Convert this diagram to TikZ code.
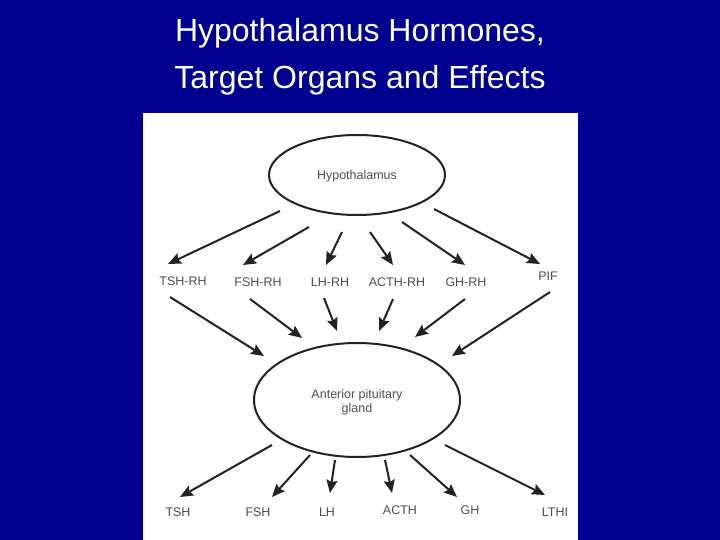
\documentclass[tikz,border=0pt]{standalone}
\usepackage{fontspec}
\setmainfont{Liberation Sans}
\usetikzlibrary{shapes.geometric,arrows.meta}
\definecolor{bg}{HTML}{000090}
\definecolor{ink}{HTML}{222222}
\begin{document}
\begin{tikzpicture}[x=1pt,y=-1pt,
 lbl/.style={text=ink!80,font=\fontsize{12.5}{14}\selectfont,inner sep=0pt},
 arr/.style={draw=ink,line width=2pt,-{Stealth[length=13pt,width=11pt,inset=2pt]}},
 ell/.style={draw=ink,line width=2pt,ellipse}]
\fill[bg] (0,0) rectangle (720,540);
\useasboundingbox (0,0) rectangle (720,540);
\fill[white] (143,113) rectangle (578,540);
\node[text=white,font=\fontsize{32}{47}\selectfont,align=center] (title) at (360,57) {Hypothalamus Hormones,\\Target Organs and Effects};
\node[ell,minimum width=176,minimum height=80] (hyp) at (357,175) {};
\node[lbl] at (357,176) {Hypothalamus};
\node[ell,minimum width=206,minimum height=114] (ant) at (357,400) {};
\node[lbl,align=center] at (357,402) {Anterior pituitary\\gland};
\foreach \n/\x/\y/\t in {a/183/281/TSH-RH,b/258/282/FSH-RH,c/330/282/LH-RH,d/397/282/ACTH-RH,e/466/282/GH-RH,f/548/276/PIF,
 g/178/512/TSH,h/258/512/FSH,i/327/512/LH,j/400/510/ACTH,k/470/510/GH,l/555/512/LTHI}
 \node[lbl] (\n) at (\x,\y) {\t};
\foreach \a/\b/\c/\d in {280/211/168/264, 309/227/243/265, 342/232/326/265, 370/232/393/265, 402/222/465/265, 434/209/540/264,
 170/297/264/356, 250/299/302/338, 324/298/337/331, 393/299/379/331, 465/299/415/337, 550/292/452/356,
 272/445/180/497, 310/455/272/497, 335/460/330/493, 385/460/392/493, 410/455/457/497, 445/445/545/495}
 \draw[arr] (\a,\b) -- (\c,\d);
\end{tikzpicture}
\end{document}
